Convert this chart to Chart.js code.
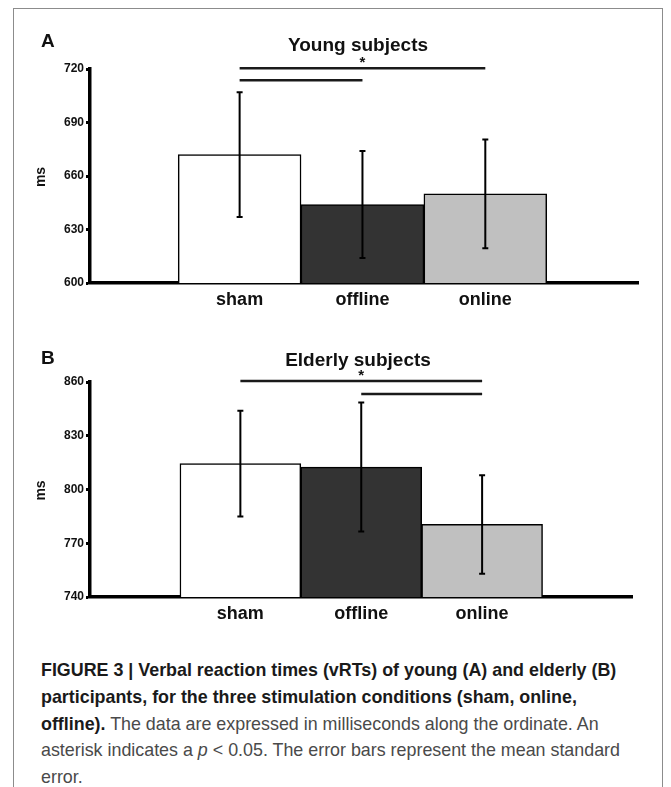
<!DOCTYPE html>
<html>
<head>
<meta charset="utf-8">
<script src="https://cdn.jsdelivr.net/npm/chart.js@4.4.1/dist/chart.umd.min.js"></script>
<style>
  html, body { margin: 0; padding: 0; background: #fff; }
  body { width: 671px; height: 787px; position: relative; overflow: hidden; }
  .frame { position: absolute; left: 13px; top: 8px; width: 650px; height: 820px; border: 1.5px solid #8c8c8c; box-sizing: border-box; }
  canvas { position: absolute; left: 0; }
  #young { top: 0; }
  #elderly { top: 310px; }
  .caption { position: absolute; left: 41px; top: 657px; font-family: "Liberation Sans", Arial, sans-serif; font-size: 19px; line-height: 26.8px; color: #4a4a4a; transform: scaleX(0.94); transform-origin: 0 0; }
  .caption div { white-space: nowrap; }
  .caption b { color: #1a1a1a; }
</style>
</head>
<body>
<div class="frame"></div>
<canvas id="young" width="671" height="330"></canvas>
<canvas id="elderly" width="671" height="340"></canvas>
<div class="caption">
  <div><b>FIGURE 3 | Verbal reaction times (vRTs) of young (A) and elderly (B)</b></div>
  <div><b>participants, for the three stimulation conditions (sham, online,</b></div>
  <div><b>offline).</b> The data are expressed in milliseconds along the ordinate. An</div>
  <div>asterisk indicates a <i>p</i> &lt; 0.05. The error bars represent the mean standard</div>
  <div>error.</div>
</div>
<script>
  // data
  const conditions = ['sham', 'offline', 'online'];
  const barColors = ['#ffffff', '#333333', '#c0c0c0'];

  const youngMeans = [672, 644, 650];
  const youngErrors = [35, 30, 30.5];
  const youngTicks = [600, 630, 660, 690, 720];
  // [from condition, to condition, level in ms]
  const youngBrackets = [[0, 2, 720.4], [0, 1, 713.7]];

  const elderlyMeans = [814.5, 812.5, 780.5];
  const elderlyErrors = [29.5, 36, 27.5];
  const elderlyTicks = [740, 770, 800, 830, 860];
  const elderlyBrackets = [[0, 2, 860.6], [1, 2, 853.3]];

  const FONT = '"Liberation Sans", Arial, sans-serif';

  const errorBars = {
    id: 'errorBars',
    afterDatasetsDraw(chart) {
      const ctx = chart.ctx;
      const y = chart.scales.y;
      const ds = chart.data.datasets[0];
      const meta = chart.getDatasetMeta(0);
      ctx.save();
      ctx.strokeStyle = '#000';
      ctx.lineWidth = 2;
      meta.data.forEach((bar, i) => {
        const v = ds.data[i].y, e = ds.errors[i];
        const top = y.getPixelForValue(v + e);
        const bot = y.getPixelForValue(v - e);
        ctx.beginPath();
        ctx.moveTo(bar.x, top); ctx.lineTo(bar.x, bot);
        ctx.moveTo(bar.x - 3, top); ctx.lineTo(bar.x + 3, top);
        ctx.moveTo(bar.x - 3, bot); ctx.lineTo(bar.x + 3, bot);
        ctx.stroke();
      });
      ctx.restore();
    }
  };

  const panelText = {
    id: 'panelText',
    afterDraw(chart, args, opts) {
      const ctx = chart.ctx;
      const x = chart.scales.x, y = chart.scales.y;
      const area = chart.chartArea;
      ctx.save();
      // significance brackets
      ctx.strokeStyle = '#1a1a1a';
      ctx.lineWidth = 2.5;
      opts.brackets.forEach(b => {
        const py = y.getPixelForValue(b[2]);
        ctx.beginPath();
        ctx.moveTo(x.getPixelForValue(b[0]), py);
        ctx.lineTo(x.getPixelForValue(b[1]), py);
        ctx.stroke();
      });
      const long = opts.brackets[0];
      ctx.fillStyle = '#111';
      ctx.textAlign = 'center';
      ctx.textBaseline = 'middle';
      ctx.font = 'bold 15px ' + FONT;
      ctx.fillText('*', x.getPixelForValue((long[0] + long[1]) / 2), y.getPixelForValue(long[2]) - 5);
      // panel letter and title
      ctx.font = 'bold 19px ' + FONT;
      ctx.textAlign = 'left';
      ctx.fillText(opts.letter, 41, area.top + opts.letterDy);
      ctx.textAlign = 'center';
      ctx.fillText(opts.title, 358, area.top + opts.titleDy);
      // axis label
      ctx.font = 'bold 14px ' + FONT;
      ctx.translate(41, (area.top + area.bottom) / 2 + 1);
      ctx.rotate(-Math.PI / 2);
      ctx.fillText('ms', 0, 0);
      ctx.restore();
    }
  };

  function makePanel(id, p) {
    return new Chart(document.getElementById(id), {
      type: 'bar',
      data: {
        datasets: [{
          data: p.means.map((v, i) => ({ x: i, y: v })),
          errors: p.errors,
          backgroundColor: barColors,
          borderColor: '#000',
          borderWidth: 1.5,
          barPercentage: 1,
          categoryPercentage: 1
        }]
      },
      options: {
        responsive: false,
        animation: false,
        layout: { padding: p.padding },
        plugins: {
          legend: { display: false },
          tooltip: { enabled: false },
          panelText: { letter: p.letter, title: p.title, brackets: p.brackets, letterDy: p.letterDy, titleDy: p.titleDy }
        },
        scales: {
          x: {
            type: 'linear',
            offset: false,
            bounds: 'data',
            min: p.xMin,
            max: p.xMax,
            afterBuildTicks: s => { s.ticks = conditions.map((c, i) => ({ value: i })); },
            afterFit: s => { s.height = 40; },
            grid: { display: false, drawTicks: false, offset: false },
            border: { color: '#000', width: 3.5 },
            ticks: {
              callback: v => conditions[v],
              autoSkip: false,
              maxRotation: 0,
              padding: 6,
              color: '#111',
              font: { family: FONT, size: 18, weight: 'bold' }
            }
          },
          y: {
            min: p.ticks[0],
            max: p.ticks[p.ticks.length - 1],
            afterBuildTicks: s => { s.ticks = p.ticks.map(v => ({ value: v })); },
            afterFit: s => { s.width = 40; },
            grid: { drawOnChartArea: false, tickLength: 4, tickWidth: 3, tickColor: '#000' },
            border: { color: '#000', width: 3.5 },
            ticks: {
              padding: 2,
              color: '#111',
              font: { family: FONT, size: 12, weight: 'bold' }
            }
          }
        }
      },
      plugins: [errorBars, panelText]
    });
  }

  makePanel('young', {
    means: youngMeans, errors: youngErrors, ticks: youngTicks, brackets: youngBrackets,
    letter: 'A', title: 'Young subjects', letterDy: -27, titleDy: -23,
    xMin: -1.218, xMax: 3.243,
    padding: { top: 69, bottom: 7, left: 50, right: 33 }
  });

  makePanel('elderly', {
    means: elderlyMeans, errors: elderlyErrors, ticks: elderlyTicks, brackets: elderlyBrackets,
    letter: 'B', title: 'Elderly subjects', letterDy: -23, titleDy: -21,
    xMin: -1.244, xMax: 3.24,
    padding: { top: 72, bottom: 13, left: 50, right: 39 }
  });
</script>
</body>
</html>
